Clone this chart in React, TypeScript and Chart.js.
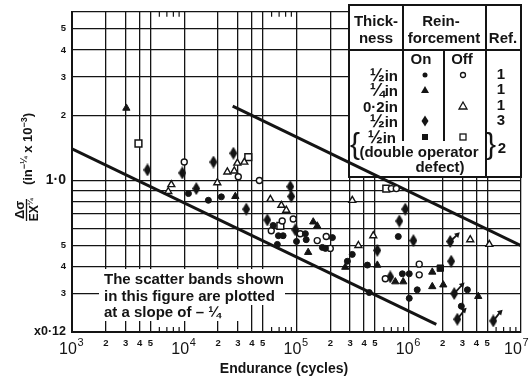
import React, { useEffect, useRef } from "react";
import { Chart, registerables } from "chart.js";

Chart.register(...registerables);

const FONT = '"Liberation Sans", Arial, sans-serif';
const INK = "#141414";

// ---------- axis ticks ----------
const xTickValues = [1e3, 2e3, 3e3, 4e3, 5e3, 1e4, 2e4, 3e4, 4e4, 5e4, 1e5, 2e5, 3e5, 4e5, 5e5, 1e6, 2e6, 3e6, 4e6, 5e6, 1e7];
const xTickLabels = ["10^3", "2", "3", "4", "5", "10^4", "2", "3", "4", "5", "10^5", "2", "3", "4", "5", "10^6", "2", "3", "4", "5", "10^7"];
const xMinorValues = [6e3, 7e3, 8e3, 9e3, 6e4, 7e4, 8e4, 9e4, 6e5, 7e5, 8e5, 9e5, 6e6, 7e6, 8e6, 9e6];
const yTickValues = [0.2, 0.3, 0.4, 0.5, 0.6, 0.7, 0.8, 0.9, 1, 2, 3, 4, 5, 6];
const yTickLabels = ["x0·12", "3", "4", "5", "", "", "", "", "1·0", "2", "3", "4", "5", ""];

// ---------- data: endurance (cycles) and Δσ/EX^¼ ----------
// ½ in, reinforcement on (ref 1) – filled circles
const halfOnN = [1.09e4, 1.64e4, 2.14e4, 6.2e4, 6.9e4, 7.6e4, 6.75e4, 1.0e5, 1.2e5, 1.22e5, 1.7e5, 1.81e5, 2.09e5, 3.14e5, 2.84e5, 4.28e5, 4.45e5, 8.07e5, 8.77e5, 1.01e6, 1.19e6, 1.01e6, 3.33e6, 2.94e6];
const halfOnS = [0.87, 0.81, 0.84, 0.62, 0.556, 0.556, 0.507, 0.523, 0.568, 0.533, 0.491, 0.486, 0.545, 0.456, 0.424, 0.407, 0.304, 0.551, 0.371, 0.371, 0.313, 0.286, 0.313, 0.263];
// ½ in, reinforcement off (ref 1) – open circles
const halfOffN = [1.0e4, 3.03e4, 4.67e4, 7.46e4, 5.96e4, 9.35e4, 1.08e5, 1.53e5, 1.84e5, 2.0e5, 7.0e5, 7.75e5, 1.24e6, 1.24e6, 6.18e5];
const halfOffS = [1.216, 1.04, 1.0, 0.65, 0.586, 0.664, 0.568, 0.528, 0.551, 0.486, 0.917, 0.917, 0.411, 0.367, 0.352];
// ¼ in, on (ref 1) – filled triangles
const quarterOnN = [3.05e3, 2.85e4, 1.41e5, 1.53e5, 1.27e5, 2.72e5, 5.25e5, 7.59e5, 8.93e5, 1.62e6, 1.62e6, 2.03e6, 4.16e6];
const quarterOnS = [2.155, 0.844, 0.644, 0.617, 0.466, 0.398, 0.407, 0.341, 0.341, 0.378, 0.324, 0.33, 0.292];
// 0·2 in, off (ref 1) – open triangles
const pointTwoOffN = [7.67e3, 7.21e3, 1.97e4, 2.42e4, 2.79e4, 2.97e4, 3.43e4, 5.85e4, 7.33e4, 8.11e4, 3.14e5, 3.56e5, 4.83e5, 3.53e6, 5.22e6];
const pointTwoOffS = [0.956, 0.889, 0.976, 1.094, 1.106, 1.202, 1.215, 0.818, 0.768, 0.729, 0.809, 0.501, 0.556, 0.533, 0.507];
// ½ in, on (ref 3) – filled diamonds
const ref3N = [4.7e3, 9.62e3, 1.82e4, 1.28e4, 2.74e4, 3.57e4, 8.81e4, 8.99e4, 5.5e4, 9.75e4, 9.31e5, 8.24e5, 1.1e6, 5.25e5, 6.85e5, 2.34e6, 2.39e6, 2.54e6, 2.71e6, 5.66e6];
const ref3S = [1.118, 1.083, 1.216, 0.917, 1.335, 0.737, 0.936, 0.844, 0.657, 0.592, 0.737, 0.65, 0.528, 0.476, 0.359, 0.523, 0.424, 0.301, 0.229, 0.225];
// ½ in double operator defect (ref 2)
const doubleOnN = [1.91e6];
const doubleOnS = [0.394];
const doubleOffN = [3.91e3, 3.72e4, 6.31e5, 7.18e4];
const doubleOffS = [1.48, 1.28, 0.917, 0.617];
// run-outs (arrows)
const runFromN = [2.34e6, 2.54e6, 2.71e6, 5.66e6];
const runFromS = [0.523, 0.301, 0.229, 0.225];
const runToN = [2.71e6, 2.99e6, 3.12e6, 6.53e6];
const runToS = [0.562, 0.33, 0.252, 0.247];
// scatter bands (slope −¼)
const upperBandN = [2.7e4, 1e7];
const upperBandS = [2.2, 0.5];
const lowerBandN = [1e3, 1.76e6];
const lowerBandS = [1.4, 0.217];

const noteLines = ["The scatter bands shown", "in this figure are plotted", "at a slope of – ¼"];

function pts(n: number[], s: number[]) {
  return n.map((v, i) => ({ x: v, y: s[i] }));
}

function makeDiamond(w: number, h: number) {
  const c = document.createElement("canvas");
  c.width = w;
  c.height = h;
  const g = c.getContext("2d")!;
  g.fillStyle = INK;
  g.beginPath();
  g.moveTo(w / 2, 0);
  g.lineTo(w, h / 2);
  g.lineTo(w / 2, h);
  g.lineTo(0, h / 2);
  g.closePath();
  g.fill();
  return c;
}

function drawRich(ctx: CanvasRenderingContext2D, parts: [string, number, number][], cu: number, baseV: number, align: "center" | "right" = "center") {
  let total = 0;
  const ws = parts.map(([t, s]) => {
    ctx.font = `bold ${s}px ${FONT}`;
    const w = ctx.measureText(t).width;
    total += w;
    return w;
  });
  let u = align === "center" ? cu - total / 2 : cu - total;
  ctx.textAlign = "left";
  ctx.textBaseline = "alphabetic";
  parts.forEach(([t, s, r], i) => {
    ctx.font = `bold ${s}px ${FONT}`;
    ctx.fillText(t, u, baseV - r);
    u += ws[i];
  });
}

function drawTable(ctx: CanvasRenderingContext2D) {
  const L = 349, R = 521, T = 5, B = 177, H = 50, C1 = 403, C2 = 444, C3 = 486, E = 141;
  ctx.save();
  ctx.fillStyle = "#fff";
  ctx.fillRect(L, T, R - L, B - T);
  ctx.strokeStyle = INK;
  ctx.lineWidth = 2;
  ctx.beginPath();
  ctx.rect(L, T, R - L, B - T);
  ctx.moveTo(L, H); ctx.lineTo(R, H);
  ctx.moveTo(C1, T); ctx.lineTo(C1, E);
  ctx.moveTo(C2, H); ctx.lineTo(C2, E);
  ctx.moveTo(C3, T); ctx.lineTo(C3, B);
  ctx.stroke();

  ctx.fillStyle = INK;
  ctx.textAlign = "center";
  ctx.textBaseline = "middle";
  ctx.font = `bold 15px ${FONT}`;
  ctx.fillText("Thick-", 376, 22);
  ctx.fillText("ness", 376, 39);
  ctx.fillText("Rein-", 441, 22);
  ctx.fillText("forcement", 444, 39);
  ctx.fillText("Ref.", 503, 39);
  ctx.fillText("On", 421, 60);
  ctx.fillText("Off", 462, 60);

  const rowsY = [75, 90, 106, 121, 137];
  const thick: [string, number, number][][] = [
    [["½", 18, 0], ["in", 15, 0]],
    [["¼", 18, 0], ["in", 15, 0]],
    [["0·2in", 15, 0]],
    [["½", 18, 0], ["in", 15, 0]],
    [["½", 18, 0], ["in", 15, 0]],
  ];
  thick.forEach((p, i) => drawRich(ctx, p, i === 4 ? 396 : 398, rowsY[i] + 5.5, "right"));
  ctx.textAlign = "center";
  ctx.textBaseline = "middle";
  ctx.font = `bold 15px ${FONT}`;
  ["1", "1", "1", "3"].forEach((t, i) => ctx.fillText(t, 501, rowsY[i]));
  ctx.fillText("2", 502, 149);
  ctx.fillText("(double operator", 419, 153);
  ctx.fillText("defect)", 440, 168);
  ctx.font = `30px ${FONT}`;
  ctx.fillText("{", 355, 146);
  ctx.fillText("}", 491, 146);

  const on = 425, off = 463;
  ctx.beginPath(); ctx.arc(on, rowsY[0], 2.5, 0, Math.PI * 2); ctx.fill();
  ctx.lineWidth = 1.3;
  ctx.beginPath(); ctx.arc(off, rowsY[0], 2.5, 0, Math.PI * 2); ctx.stroke();
  ctx.beginPath(); ctx.moveTo(on, rowsY[1] - 4); ctx.lineTo(on + 4, rowsY[1] + 3); ctx.lineTo(on - 4, rowsY[1] + 3); ctx.closePath(); ctx.fill();
  ctx.beginPath(); ctx.moveTo(off, rowsY[2] - 4); ctx.lineTo(off + 4, rowsY[2] + 3); ctx.lineTo(off - 4, rowsY[2] + 3); ctx.closePath(); ctx.stroke();
  ctx.beginPath(); ctx.moveTo(on, rowsY[3] - 5.5); ctx.lineTo(on + 3.5, rowsY[3]); ctx.lineTo(on, rowsY[3] + 5.5); ctx.lineTo(on - 3.5, rowsY[3]); ctx.closePath(); ctx.fill();
  ctx.fillRect(on - 3, rowsY[4] - 3, 6, 6);
  ctx.strokeRect(off - 3, rowsY[4] - 3, 6, 6);
  ctx.restore();
}

const decorPlugin = {
  id: "decor",
  beforeDatasetsDraw(chart: any) {
    const { ctx, chartArea, scales } = chart;
    const { top, bottom } = chartArea;
    const x = scales.x;
    ctx.save();
    ctx.strokeStyle = INK;
    ctx.lineWidth = 1.2;
    ctx.beginPath();
    xMinorValues.forEach((v) => {
      const px = x.getPixelForValue(v);
      ctx.moveTo(px, top); ctx.lineTo(px, top + 5);
      ctx.moveTo(px, bottom - 5); ctx.lineTo(px, bottom);
    });
    ctx.stroke();

    ctx.fillStyle = "#fff";
    ctx.fillRect(99, 269, 196, 19);
    ctx.fillRect(99, 288, 186, 17);
    ctx.fillRect(99, 305, 140, 16);
    ctx.fillStyle = INK;
    ctx.font = `bold 15px ${FONT}`;
    ctx.textAlign = "left";
    ctx.textBaseline = "middle";
    noteLines.forEach((t, i) => ctx.fillText(t, 104, 280 + i * 16.5));
    ctx.restore();

    drawTable(ctx);
  },
  afterDraw(chart: any) {
    const { ctx, scales } = chart;
    const x = scales.x;
    ctx.save();
    ctx.fillStyle = INK;
    ctx.strokeStyle = INK;
    xTickValues.forEach((v, i) => {
      const lab = xTickLabels[i];
      const px = x.getPixelForValue(v);
      if (lab.includes("^")) {
        const [b, e] = lab.split("^");
        const shift = Math.max(0, px + 13 - 530);
        const cx = px - 4 - shift;
        ctx.font = `16px ${FONT}`;
        ctx.textAlign = "center";
        ctx.textBaseline = "middle";
        ctx.fillText(b, cx, 350);
        ctx.font = `11px ${FONT}`;
        ctx.textAlign = "left";
        ctx.fillText(e, cx + 9.5, 343);
      } else {
        ctx.font = `bold 9.5px ${FONT}`;
        ctx.textAlign = "center";
        ctx.textBaseline = "middle";
        ctx.fillText(lab, px, 343);
      }
    });
    ctx.font = `bold 14px ${FONT}`;
    ctx.textAlign = "center";
    ctx.textBaseline = "middle";
    ctx.fillText("Endurance (cycles)", 284, 369);

    ctx.save();
    ctx.translate(26, 210);
    ctx.rotate(-Math.PI / 2);
    ctx.font = `bold 13px ${FONT}`;
    ctx.textAlign = "center";
    ctx.textBaseline = "alphabetic";
    ctx.fillText("Δσ", 0, -2);
    ctx.lineWidth = 1.3;
    ctx.beginPath(); ctx.moveTo(-11, 0.5); ctx.lineTo(11, 0.5); ctx.stroke();
    drawRich(ctx, [["EX", 12, 0], ["¼", 8, 5]], 0, 11.5);
    ctx.restore();

    ctx.save();
    ctx.translate(32, 149);
    ctx.rotate(-Math.PI / 2);
    drawRich(ctx, [["(in", 13, 0], ["−¼", 9, 5], [" x 10", 13, 0], ["−3", 9, 5], [")", 13, 0]], 0, 0);
    ctx.restore();
    ctx.restore();
  },
};

export default function App() {
  const ref = useRef<HTMLCanvasElement>(null);
  useEffect(() => {
    document.body.style.margin = "0";
    const canvas = ref.current!;
    const diamond = makeDiamond(8, 13);

    const arrowSets = runFromN.map((n, i) => ({
      type: "line" as const,
      data: [{ x: n, y: runFromS[i] }, { x: runToN[i], y: runToS[i] }],
      borderColor: INK,
      borderWidth: 1.8,
      pointRadius: [0, 3.4],
      pointStyle: "triangle",
      pointRotation: 45,
      pointBackgroundColor: INK,
      pointBorderColor: INK,
      pointBorderWidth: 0,
      showLine: true,
      order: 1,
    }));

    const chart = new Chart(canvas, {
      type: "scatter",
      data: {
        datasets: [
          { data: pts(halfOnN, halfOnS), pointStyle: "circle", pointRadius: 3, pointBackgroundColor: INK, pointBorderColor: INK, pointBorderWidth: 1, order: 0 },
          { data: pts(halfOffN, halfOffS), pointStyle: "circle", pointRadius: 3, pointBackgroundColor: "#fff", pointBorderColor: INK, pointBorderWidth: 1.4, order: 0 },
          { data: pts(quarterOnN, quarterOnS), pointStyle: "triangle", pointRadius: 4.2, pointBackgroundColor: INK, pointBorderColor: INK, pointBorderWidth: 1, order: 0 },
          { data: pts(pointTwoOffN, pointTwoOffS), pointStyle: "triangle", pointRadius: 4, pointBackgroundColor: "#fff", pointBorderColor: INK, pointBorderWidth: 1.4, order: 0 },
          { data: pts(ref3N, ref3S), pointStyle: diamond, pointRadius: 5, order: 0 },
          { data: pts(doubleOnN, doubleOnS), pointStyle: "rect", pointRadius: 4.5, pointBackgroundColor: INK, pointBorderColor: INK, pointBorderWidth: 1, order: 0 },
          { data: pts(doubleOffN, doubleOffS), pointStyle: "rect", pointRadius: 4.8, pointBackgroundColor: "#fff", pointBorderColor: INK, pointBorderWidth: 1.5, order: 0 },
          ...arrowSets,
          { type: "line", data: pts(upperBandN, upperBandS), borderColor: INK, borderWidth: 3, pointRadius: 0, showLine: true, order: 5 },
          { type: "line", data: pts(lowerBandN, lowerBandS), borderColor: INK, borderWidth: 3, pointRadius: 0, showLine: true, order: 5 },
        ] as any,
      },
      options: {
        animation: false,
        responsive: false,
        devicePixelRatio: 1,
        layout: { padding: { left: 0, right: 10, top: 5, bottom: 0 } },
        plugins: { legend: { display: false }, tooltip: { enabled: false } },
        events: [],
        scales: {
          x: {
            type: "logarithmic",
            min: 1e3,
            max: 1e7,
            afterBuildTicks: (s: any) => {
              s.ticks = xTickValues.map((v) => ({ value: v }));
            },
            afterFit: (s: any) => {
              s.height = 48;
            },
            ticks: { display: false, autoSkip: false },
            grid: { color: INK, lineWidth: 1.3, drawTicks: false },
            border: { color: INK, width: 2 },
          },
          y: {
            type: "logarithmic",
            min: 0.2,
            max: 6,
            afterBuildTicks: (s: any) => {
              s.ticks = yTickValues.map((v) => ({ value: v }));
            },
            afterFit: (s: any) => {
              s.width = 72;
            },
            ticks: {
              autoSkip: false,
              padding: 6,
              color: INK,
              callback: (v: any) => {
                const i = yTickValues.findIndex((t) => Math.abs(t - Number(v)) < 1e-9);
                return i >= 0 ? yTickLabels[i] : "";
              },
              font: (c: any) => {
                const v = c.tick ? c.tick.value : 0;
                if (Math.abs(v - 1) < 1e-9) return { family: FONT, size: 14, weight: "bold" };
                if (Math.abs(v - 0.2) < 1e-9) return { family: FONT, size: 12.5, weight: "bold" };
                return { family: FONT, size: 9.5, weight: "bold" };
              },
            },
            grid: { color: INK, lineWidth: 1.3, drawTicks: false },
            border: { color: INK, width: 2 },
          },
        },
      } as any,
      plugins: [decorPlugin],
    });
    return () => chart.destroy();
  }, []);
  return (
    <div style={{ width: 531, height: 380 }}>
      <canvas ref={ref} width={531} height={380} style={{ display: "block" }} />
    </div>
  );
}
